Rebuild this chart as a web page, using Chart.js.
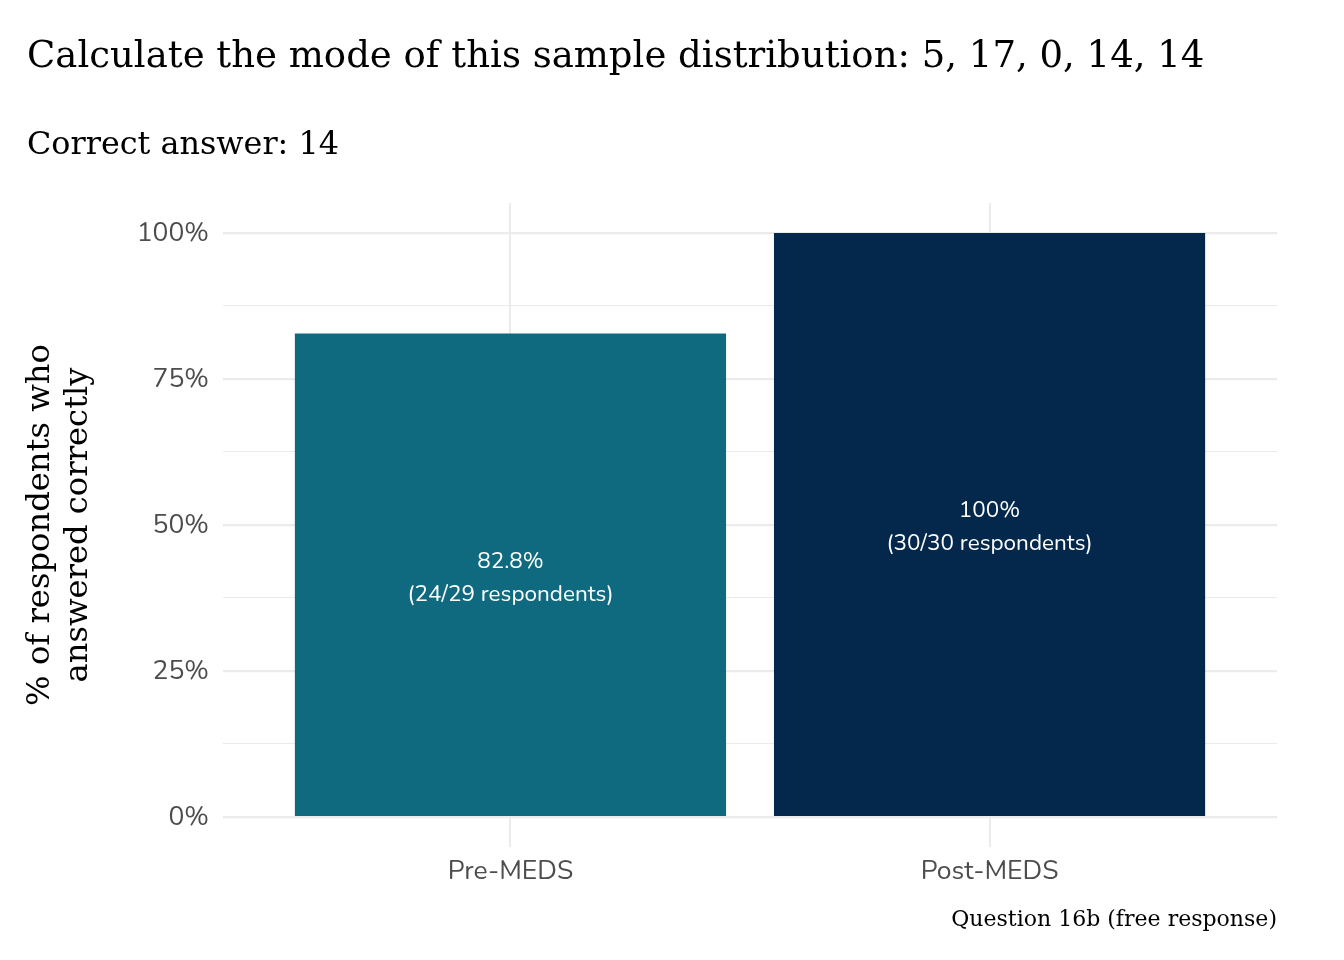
<!DOCTYPE html>
<html>
<head>
<meta charset="utf-8">
<script src="https://cdn.jsdelivr.net/npm/chart.js@4.4.1/dist/chart.umd.min.js"></script>
<style>
html,body{margin:0;padding:0;background:#fff;}
#wrap{width:1344px;height:960px;}
</style>
</head>
<body>
<div id="wrap"><canvas id="c" width="1344" height="960"></canvas></div>
<script>
const categories = ["Pre-MEDS", "Post-MEDS"];
const percentCorrect = [82.8, 100];
const countCorrect = [24, 30];
const countTotal = [29, 30];
const barColors = ["#106A7F", "#03284B"];
const yTickValues = [0, 12.5, 25, 37.5, 50, 62.5, 75, 87.5, 100];
const titleText = "Calculate the mode of this sample distribution: 5, 17, 0, 14, 14";
const subtitleText = "Correct answer: 14";
const captionText = "Question 16b (free response)";
const yTitleLines = ["% of respondents who", "answered correctly"];

const SERIF = '"DejaVu Serif", "Liberation Serif", serif';
const SANS = '"Nunito", "Noto Sans", "Open Sans", sans-serif';

function fitFont(ctx, text, width, family, weight) {
  let size = 40;
  ctx.font = `${weight||''} ${size}px ${family}`;
  const w = ctx.measureText(text).width;
  return size * width / w;
}

const textPlugin = {
  id: 'texts',
  afterDraw(chart) {
    const ctx = chart.ctx;
    ctx.save();
    ctx.fillStyle = '#000';
    ctx.textBaseline = 'middle';
    // title
    let s = fitFont(ctx, titleText, 1178, SERIF);
    ctx.font = `${s}px ${SERIF}`;
    ctx.textAlign = 'left';
    ctx.fillText(titleText, 27, 57);
    // subtitle
    s = fitFont(ctx, subtitleText, 312, SERIF);
    ctx.font = `${s}px ${SERIF}`;
    ctx.fillText(subtitleText, 27, 146);
    // caption
    s = fitFont(ctx, captionText, 326, SERIF);
    ctx.font = `${s}px ${SERIF}`;
    ctx.textAlign = 'right';
    ctx.fillText(captionText, 1277, 920);
    // y title
    ctx.save();
    ctx.rotate(-Math.PI / 2);
    ctx.textAlign = 'center';
    const s1 = fitFont(ctx, yTitleLines[0], 362, SERIF);
    ctx.font = `${s1}px ${SERIF}`;
    const cy = (chart.chartArea.top + chart.chartArea.bottom) / 2;
    ctx.fillText(yTitleLines[0], -cy, 41);
    ctx.fillText(yTitleLines[1], -cy, 79);
    ctx.restore();

    // bar labels
    const xs = chart.scales.x, ys = chart.scales.y;
    ctx.fillStyle = '#fff';
    ctx.textAlign = 'center';
    ctx.font = `22.5px ${SANS}`;
    percentCorrect.forEach((v, i) => {
      const px = xs.getPixelForValue(i);
      const py = ys.getPixelForValue(v / 2);
      const pct = (Math.round(v * 10) / 10) + '%';
      ctx.fillText(pct, px, py - 13);
      ctx.fillText(`(${countCorrect[i]}/${countTotal[i]} respondents)`, px, py + 20);
    });
    ctx.restore();
  }
};

new Chart(document.getElementById('c'), {
  type: 'bar',
  data: {
    datasets: [{
      data: percentCorrect.map((v, i) => ({x: i, y: v})),
      backgroundColor: barColors,
      borderWidth: 0,
      barPercentage: 0.9,
      categoryPercentage: 1.0
    }]
  },
  options: {
    responsive: false,
    animation: false,
    devicePixelRatio: 1,
    layout: {padding: {left: 0, top: 203, right: 67, bottom: 0}},
    plugins: {legend: {display: false}, tooltip: {enabled: false}, title: {display: false}},
    scales: {
      x: {
        type: 'linear',
        offset: false,
        min: -0.6,
        max: 1.6,
        afterBuildTicks(scale) { scale.ticks = categories.map((c, i) => ({value: i})); },
        afterFit(scale) { scale.height = 113; },
        ticks: {
          callback: (v) => categories[v],
          font: {family: SANS, size: 26.5},
          color: '#4D4D4D',
          padding: 10,
          autoSkip: false,
          maxRotation: 0
        },
        grid: {color: '#EBEBEB', lineWidth: 2, drawTicks: false, offset: false},
        border: {display: false}
      },
      y: {
        type: 'linear',
        min: -5.14,
        max: 105.14,
        afterBuildTicks(scale) { scale.ticks = yTickValues.map(v => ({value: v})); },
        afterFit(scale) { scale.width = 223; },
        ticks: {
          callback: (v) => (v % 25 === 0 ? v + '%' : ''),
          font: {family: SANS, size: 26.5},
          color: '#4D4D4D',
          padding: 14,
          labelOffset: 2,
          autoSkip: false
        },
        grid: {
          color: '#EBEBEB',
          lineWidth: (ctx) => (ctx.tick && ctx.tick.value % 25 === 0 ? 2.2 : 1.1),
          drawTicks: false
        },
        border: {display: false}
      }
    }
  },
  plugins: [textPlugin]
});
</script>
</body>
</html>
